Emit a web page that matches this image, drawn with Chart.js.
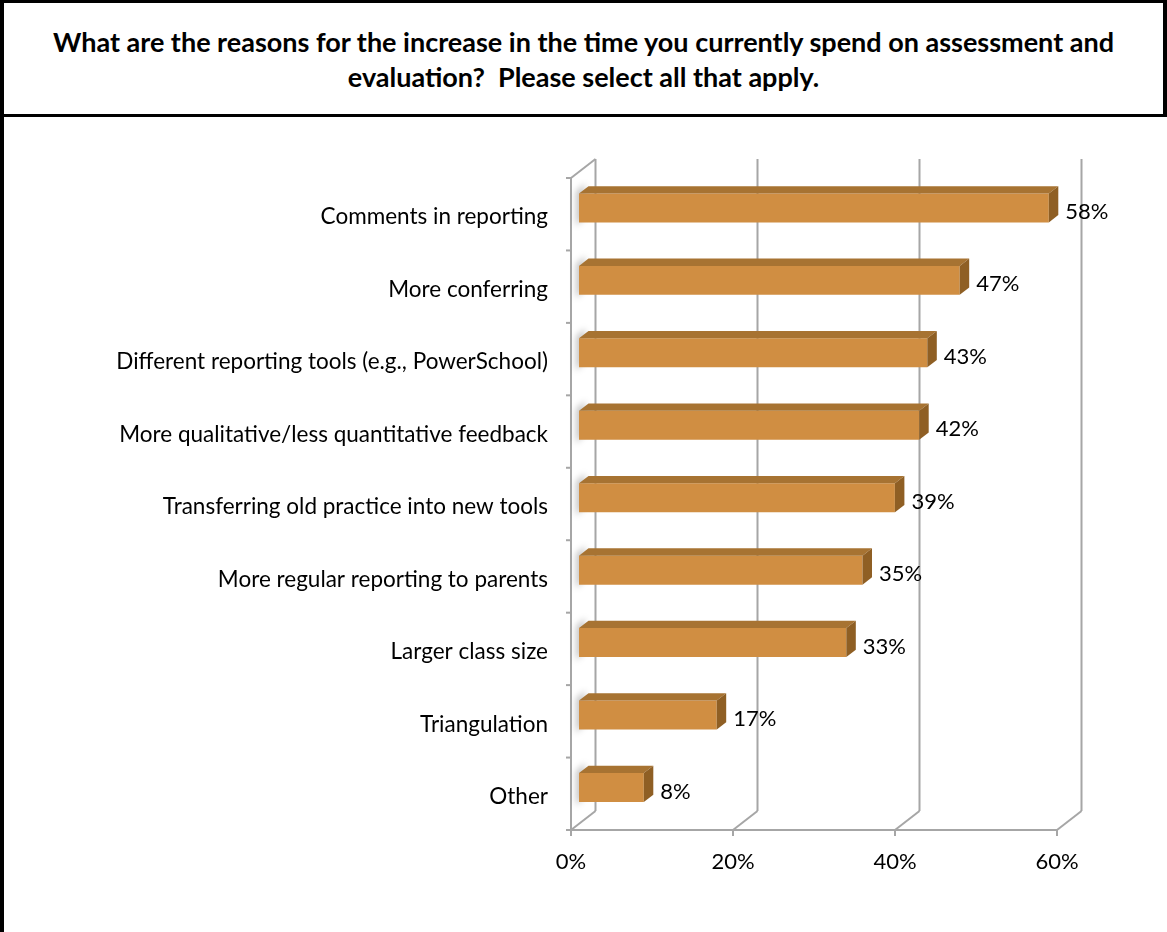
<!DOCTYPE html>
<html>
<head>
<meta charset="utf-8">
<script src="https://cdn.jsdelivr.net/npm/chart.js@4.4.1/dist/chart.umd.min.js"></script>
<style>
  html, body { margin: 0; padding: 0; background: #fff; }
  #page { position: relative; width: 1167px; height: 932px; overflow: hidden; }
  #frame {
    position: absolute; left: 0; top: 0; width: 1163px; height: 929px;
    border-left: 4px solid #000; border-top: 3px solid #000;
  }
  #title {
    position: absolute; left: 4px; top: 3px; width: 1159px; height: 111px;
    border-right: 4px solid #000; border-bottom: 3px solid #000;
    display: flex; align-items: center; justify-content: center;
    font-family: Lato, "Open Sans", sans-serif; font-weight: bold;
    font-size: 27px; line-height: 35px; text-align: center; color: #000;
    z-index: 2; background: #fff;
  }
  #wrap { position: absolute; left: 0; top: 0; width: 1167px; height: 932px; }
</style>
</head>
<body>
<div id="page">
  <div id="frame"></div>
  <div id="wrap"><canvas id="chart"></canvas></div>
  <div id="title"><div>What are the reasons for the increase in the time you currently spend on assessment and<br>evaluation?&nbsp; Please select all that apply.</div></div>
</div>
<script>
const categories = [
  'Comments in reporting',
  'More conferring',
  'Different reporting tools (e.g., PowerSchool)',
  'More qualitative/less quantitative feedback',
  'Transferring old practice into new tools',
  'More regular reporting to parents',
  'Larger class size',
  'Triangulation',
  'Other'
];
const percents = [58, 47, 43, 42, 39, 35, 33, 17, 8];
const xTicks = [0, 20, 40, 60];

const FONT = 'Lato, "Open Sans", sans-serif';
const GRID = '#a6a6a6';
const FRONT = '#d08e42';
const TOP = '#a77332';
const SIDE = '#8f5f24';

// depth of the back wall, of the bar front inside the box, and of the bar itself
const WALL = { dx: 24.5, dy: -19 };
const FACE = { dx: 8, dy: -6.3 };
const BAR = { dx: 9.5, dy: -7.3 };

function line(ctx, x1, y1, x2, y2) {
  ctx.beginPath();
  ctx.moveTo(x1, y1);
  ctx.lineTo(x2, y2);
  ctx.stroke();
}

function poly(ctx, pts, fill) {
  ctx.beginPath();
  ctx.moveTo(pts[0][0], pts[0][1]);
  for (let i = 1; i < pts.length; i++) ctx.lineTo(pts[i][0], pts[i][1]);
  ctx.closePath();
  ctx.fillStyle = fill;
  ctx.fill();
}

const box3d = {
  id: 'box3d',
  beforeDatasetsDraw(chart) {
    const { ctx, chartArea: a, scales } = chart;
    const xs = scales.x;
    ctx.save();
    ctx.strokeStyle = GRID;
    ctx.lineWidth = 2;

    // back wall gridlines, floor diagonals and tick marks
    xTicks.forEach((v) => {
      const px = xs.getPixelForValue(v);
      line(ctx, px + WALL.dx, a.top + WALL.dy, px + WALL.dx, a.bottom + WALL.dy);
      line(ctx, px, a.bottom, px + WALL.dx, a.bottom + WALL.dy);
      line(ctx, px, a.bottom, px, a.bottom + 6);
    });
    // front floor edge and left wall front edge
    line(ctx, a.left, a.bottom, xs.getPixelForValue(60), a.bottom);
    line(ctx, a.left, a.top, a.left, a.bottom);
    line(ctx, a.left, a.top, a.left + WALL.dx, a.top + WALL.dy);
    // category ticks on the left wall
    const band = (a.bottom - a.top) / categories.length;
    for (let i = 0; i <= categories.length; i++) {
      const y = a.top + i * band;
      line(ctx, a.left - 5, y, a.left, y);
    }

    // soft shadows the bars cast on the left wall
    const meta = chart.getDatasetMeta(0);
    ctx.filter = 'blur(3px)';
    meta.data.forEach((bar) => {
      const top = bar.y - bar.height / 2 + FACE.dy;
      const bot = bar.y + bar.height / 2 + FACE.dy;
      const x0 = a.left + 5;
      poly(ctx, [[x0, top - 2], [x0 + 9, top - 10], [x0 + 9, bot - 6], [x0, bot + 4]], 'rgba(0,0,0,0.22)');
    });
    ctx.filter = 'none';
    ctx.restore();

    // bars are drawn one step into the box
    ctx.save();
    ctx.translate(FACE.dx, FACE.dy);
  },
  afterDatasetsDraw(chart) {
    const { ctx } = chart;
    const meta = chart.getDatasetMeta(0);
    meta.data.forEach((bar) => {
      const x0 = bar.base, x1 = bar.x;
      const top = bar.y - bar.height / 2, bot = bar.y + bar.height / 2;
      poly(ctx, [[x0, top], [x0 + BAR.dx, top + BAR.dy], [x1 + BAR.dx, top + BAR.dy], [x1, top]], TOP);
      poly(ctx, [[x1, top], [x1 + BAR.dx, top + BAR.dy], [x1 + BAR.dx, bot + BAR.dy], [x1, bot]], SIDE);
    });
    ctx.restore();

    // value labels
    ctx.save();
    ctx.fillStyle = '#000';
    ctx.font = '22px ' + FONT;
    ctx.textAlign = 'left';
    ctx.textBaseline = 'middle';
    meta.data.forEach((bar, i) => {
      const x = bar.x + FACE.dx + BAR.dx + 7;
      const y = bar.y + FACE.dy + 4;
      ctx.fillText(percents[i] + '%', x, y);
    });
    ctx.restore();
  }
};

new Chart(document.getElementById('chart'), {
  type: 'bar',
  data: {
    labels: categories,
    datasets: [{
      data: percents,
      backgroundColor: FRONT,
      borderWidth: 0,
      barPercentage: 0.4,
      categoryPercentage: 1,
      clip: false
    }]
  },
  options: {
    indexAxis: 'y',
    responsive: true,
    maintainAspectRatio: false,
    devicePixelRatio: 1,
    animation: false,
    layout: { padding: { top: 178, right: 110, bottom: 0, left: 0 } },
    plugins: {
      legend: { display: false },
      tooltip: { enabled: false }
    },
    scales: {
      x: {
        min: 0,
        max: 60,
        ticks: {
          stepSize: 20,
          color: '#000',
          font: { family: FONT, size: 22 },
          padding: 19,
          callback: (v) => v + '%'
        },
        grid: { display: false, drawTicks: false },
        border: { display: false },
        afterFit: (s) => { s.height = 102; }
      },
      y: {
        ticks: {
          color: '#000',
          font: { family: FONT, size: 22.5 },
          padding: 23,
          labelOffset: 3
        },
        grid: { display: false, drawTicks: false },
        border: { display: false },
        afterFit: (s) => { s.width = 571; }
      }
    }
  },
  plugins: [box3d]
});
</script>
</body>
</html>
